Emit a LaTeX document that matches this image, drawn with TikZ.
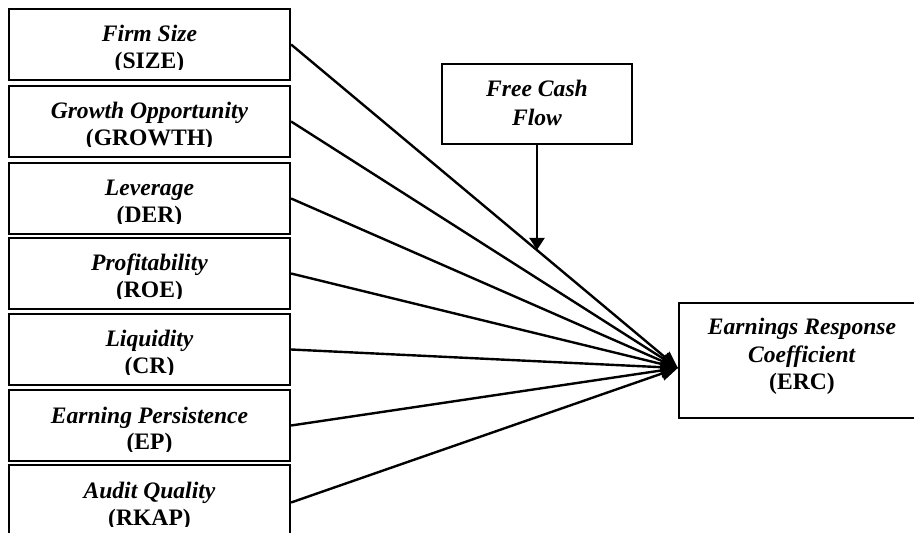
\documentclass[tikz,border=0pt]{standalone}
\usepackage{fontspec}
\setmainfont{Liberation Serif}
\usetikzlibrary{arrows.meta,calc}
\tikzset{
  boxnode/.style={draw, line width=1.1pt, rectangle, inner sep=0pt},
  lbl/.style={anchor=base, inner sep=0pt, font=\fontsize{11.8}{14}\selectfont},
  conn/.style={line width=1.2pt, -{Triangle[length=8.5pt,width=7pt]}},
}
\newcommand{\ib}[1]{\textbf{\textit{#1}}}
\begin{document}
\begin{tikzpicture}[x=0.5pt,y=-0.5pt]
\useasboundingbox (0,0) rectangle (914,533);
% left boxes
\foreach \n/\t in {1/9,2/86,3/163,4/238,5/314,6/390}{
  \node[boxnode, minimum width=140.5pt, minimum height=35.5pt] (b\n) at (149.5,\t+35.5) {};
}
\node[boxnode, minimum width=140.5pt, minimum height=37.5pt] (b7) at (149.5,502.5) {};
% texts (second line clipped as in the reference)
\foreach \t/\a/\b in {9/Firm Size/(SIZE), 86/Growth Opportunity/(GROWTH), 163/Leverage/(DER), 238/Profitability/(ROE), 314/Liquidity/(CR), 390/Earning Persistence/(EP), 465/Audit Quality/(RKAP)}{
  \node[lbl] at (149.5,\t+33) {\ib{\a}};
  \begin{scope}
    \clip (12,\t+35) rectangle (287,\t+61);
    \node[lbl] at (149.5,\t+60) {\textbf{\b}};
  \end{scope}
}
% free cash flow
\node[boxnode, minimum width=95pt, minimum height=40pt] (fcf) at (537,104) {};
\node[lbl] at (537,97) {\ib{Free Cash}};
\node[lbl] at (537,126) {\ib{Flow}};
% ERC
\node[boxnode, minimum width=123pt, minimum height=57.5pt] (erc) at (802,360.5) {};
\node[lbl] at (802,335) {\ib{Earnings Response}};
\node[lbl] at (802,363) {\ib{Coefficient}};
\node[lbl] at (802,390) {\textbf{(ERC)}};
% connectors
\coordinate (t) at ([yshift=-3.75pt]erc.west);
\foreach \n in {1,...,7}{
  \draw[conn] (b\n.east) -- (t);
}
\coordinate (m) at ($(b1.east)!0.635!(t)$);
\draw[line width=1.2pt, -{Triangle[length=6pt,width=7.5pt]}] (fcf.south) -- (fcf.south |- m);
\end{tikzpicture}
\end{document}
